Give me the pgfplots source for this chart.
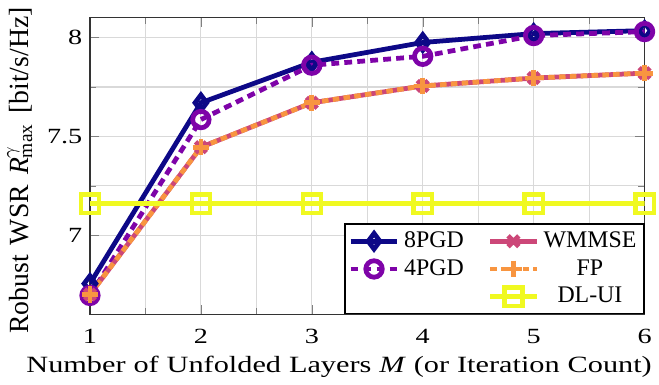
\documentclass[border=0pt]{standalone}
\usepackage{pgfplots}
\pgfplotsset{compat=1.18}
\usepackage{fontspec}
\setmainfont{Liberation Serif}
\newfontfamily\widefont{Liberation Serif}[FakeStretch=1.3]
\definecolor{pA}{HTML}{0D0887}
\definecolor{pB}{HTML}{7E03A8}
\definecolor{pC}{HTML}{CC4778}
\definecolor{pD}{HTML}{F89540}
\definecolor{pE}{HTML}{F0F921}
\begin{document}
\begin{tikzpicture}
\begin{axis}[
  scale only axis,
  width=255.9pt, height=136.8pt,
  xmin=1, xmax=6, ymin=6.6, ymax=8.1,
  xtick={1,2,3,4,5,6}, ytick={7,7.5,8},
  minor x tick num=1, minor y tick num=1,
  grid=both,
  major grid style={gray!30, line width=0.5pt},
  minor grid style={gray!30, line width=0.5pt},
  axis line style={black!80, line width=0.6pt},
  /pgf/number format/assume math mode=true,
  tick label style={font=\fontsize{10}{12}\widefont},
  xticklabel style={yshift=-3.2pt},
  xlabel={\fontsize{10.75}{12}\widefont\spaceskip=0.34em\relax Number of Unfolded Layers \textit{M} (or Iteration Count)},
  ylabel={\fontsize{12.8}{15}\selectfont\spaceskip=0.36em\relax Robust WSR \textit{R}$^{\gamma}_{\max}$ [bit/s/Hz]},
  xlabel style={yshift=1pt, xshift=-13pt},
  ylabel style={at={(ticklabel cs:0.485)}},
  legend columns=2,
  legend cell align=center,
  legend style={at={(1,0)}, anchor=south east, font=\fontsize{11}{13}\selectfont,
    draw=black, line width=0.6pt, inner sep=1.5pt,
    /tikz/every even column/.append style={column sep=9pt}},
  legend image code/.code={\draw[mark repeat=2,mark phase=2] plot coordinates {(0cm,0cm) (0.38cm,0cm) (0.76cm,0cm)};},
]
\path (rel axis cs:0,1) ++(0,7.7pt) coordinate (topx);
\path (topx) -- (topx);
\addplot[pA, line width=2.2pt, mark=diamond, mark size=3.6pt, mark options={solid}, forget plot]
 coordinates {(1,6.755) (2,7.67) (3,7.875) (4,7.975) (5,8.02) (6,8.035)};
\addplot[pB, line width=2.2pt, dash pattern=on 3.6pt off 2.4pt, mark=o, mark size=3.8pt, mark options={solid}, forget plot]
 coordinates {(1,6.695) (2,7.585) (3,7.86) (4,7.905) (5,8.01) (6,8.03)};
\addplot[pC, line width=2.2pt, mark=x, mark size=3.5pt, mark options={solid}, forget plot]
 coordinates {(1,6.70) (2,7.445) (3,7.67) (4,7.755) (5,7.795) (6,7.82)};
\addplot[pD, line width=2.2pt, dash pattern=on 3pt off 2pt, mark=+, mark size=3.8pt, mark options={solid}, forget plot]
 coordinates {(1,6.70) (2,7.445) (3,7.67) (4,7.755) (5,7.795) (6,7.82)};
\addplot[pE, line width=2pt, mark=square, mark size=4.2pt, mark options={solid}, forget plot]
 coordinates {(1,7.16) (2,7.16) (3,7.16) (4,7.16) (5,7.16) (6,7.16)};
\addlegendimage{pA, line width=2.2pt, mark=diamond, mark size=3.6pt, mark options={solid}}
\addlegendentry{8PGD}
\addlegendimage{pC, line width=2.2pt, mark=x, mark size=3.5pt, mark options={solid}}
\addlegendentry{WMMSE}
\addlegendimage{pB, line width=2.2pt, dash pattern=on 3.6pt off 2.4pt, mark=o, mark size=3.8pt, mark options={solid}}
\addlegendentry{4PGD}
\addlegendimage{pD, line width=2.2pt, dash pattern=on 3pt off 2pt, mark=+, mark size=3.8pt, mark options={solid}}
\addlegendentry{FP}
\addlegendimage{empty legend}
\addlegendentry{}
\addlegendimage{pE, line width=2pt, mark=square, mark size=4.2pt, mark options={solid}}
\addlegendentry{DL-UI}
\end{axis}
\end{tikzpicture}
\end{document}
